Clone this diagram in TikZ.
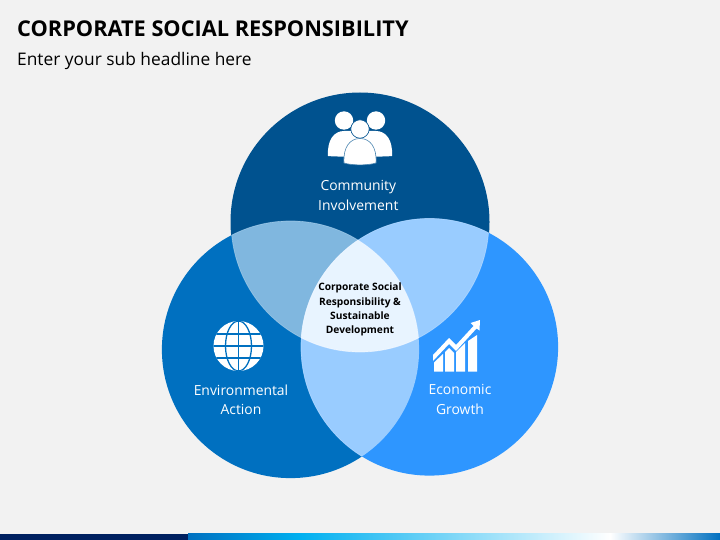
\documentclass[tikz,border=0pt]{standalone}
\usepackage{fontspec}
\setmainfont{Open Sans}
\definecolor{bgc}{HTML}{F2F2F2}
\definecolor{ctop}{HTML}{00528F}
\definecolor{cleft}{HTML}{0070C0}
\definecolor{cright}{HTML}{2E96FF}
\definecolor{ovtl}{HTML}{80B7DF}
\definecolor{ovs}{HTML}{99CCFF}
\definecolor{ovc}{HTML}{E8F4FF}
\definecolor{navy}{HTML}{002060}
\definecolor{sky}{HTML}{00B0F0}
\tikzset{
  lab/.style={align=center,text=white,font=\fontsize{13.9}{19.2}\selectfont,inner sep=0pt},
  core/.style={align=center,text=black,font=\fontsize{10.2}{14.3}\selectfont\bfseries,inner sep=0pt},
  ring/.style={draw=white,draw opacity=0.3,line width=0.7pt},
  circ/.style={circle,inner sep=0pt,outer sep=0pt}
}
\def\ctop{(360,222) circle[x radius=129,y radius=130]}
\def\cleft{(290.5,349.5) circle[radius=128.6]}
\def\cright{(429.5,347) circle[radius=128.6]}
\begin{document}
\begin{tikzpicture}[x=1pt,y=-1pt]
\useasboundingbox (0,0) rectangle (720,540);
\fill[bgc] (0,0) rectangle (720,540);
% bottom strip
\fill[navy] (0,533.5) rectangle (188,540);
\fill[left color=cleft,right color=sky] (188,533.5) rectangle (300,540);
\fill[left color=sky,right color=white] (300,533.5) rectangle (610,540);
\fill[left color=white,right color=cleft] (610,533.5) rectangle (720,540);
% circles
\node[circ,fill=ctop,minimum size=259pt] (topc) at (360,222) {};
\node[circ,fill=cleft,minimum size=257.2pt] (leftc) at (290.5,349.5) {};
\node[circ,fill=cright,minimum size=257.2pt] (rightc) at (429.5,347) {};
% overlaps
\begin{scope}
 \clip \ctop;
 \fill[ovtl] \cleft;
 \fill[ovs] \cright;
\end{scope}
\begin{scope}
 \clip \cleft;
 \fill[ovs] \cright;
\end{scope}
\begin{scope}
 \clip \ctop;
 \clip \cleft;
 \fill[ovc] \cright;
\end{scope}
\begin{scope}
 \clip \ctop;
 \draw[ring] \cleft;
 \draw[ring] \cright;
\end{scope}
\begin{scope}
 \clip \cleft;
 \draw[ring] \ctop;
 \draw[ring] \cright;
\end{scope}
\begin{scope}
 \clip \cright;
 \draw[ring] \ctop;
\end{scope}
% titles
\node[anchor=base west,inner sep=0pt,font=\fontsize{21.75}{24}\selectfont\bfseries,text=black] (title) at (17,37) {CORPORATE SOCIAL RESPONSIBILITY};
\node[anchor=base west,inner sep=0pt,font=\fontsize{17.35}{20}\selectfont,text=black] (sub) at (17,65.5) {Enter your sub headline here};
% labels
\node[lab] (lcomm) at (358.3,195.5) {Community\\Involvement};
\node[lab] (lenv) at (241,399.5) {Environmental\\Action};
\node[lab] (leco) at (460,399.5) {Economic\\Growth};
\node[core] (lcore) at (360,309.5) {Corporate Social\\Responsibility \&\\Sustainable\\Development};
% people icon
\fill[white] (344,120.5) circle[radius=9.2] (376,120.5) circle[radius=9.2];
\fill[white] (328,156) .. controls (327,140) and (334,131) .. (344,131) -- (376,131) .. controls (386,131) and (393,140) .. (392,156) -- (392,156) .. controls (385,157) and (335,157) .. (328,156) -- cycle;
\fill[white,draw=ctop!70!white,line width=0.6pt] (344,163) .. controls (343,147) and (350,138.5) .. (360,138.5) .. controls (370,138.5) and (377,147) .. (376,163) .. controls (368,165.5) and (352,165.5) .. (344,163) -- cycle;
\fill[white,draw=ctop,line width=0.6pt] (360,129) circle[radius=9.2];
% globe icon
\fill[white] (238.5,346) circle[radius=25];
\begin{scope}
 \clip (238.5,346) circle[radius=25];
 \draw[cleft,line width=1.3pt] (238.5,320) -- (238.5,372);
 \draw[cleft,line width=1.3pt] (238.5,346) ellipse[x radius=13,y radius=25];
 \draw[cleft,line width=1.3pt] (212,334) -- (265,334) (212,346) -- (265,346) (212,358) -- (265,358);
\end{scope}
% chart icon
\fill[white] (433,355) -- (449,338) -- (456,345) -- (473.5,326) -- (470.5,323) -- (480,320) -- (479.5,330.5) -- (476.5,328.5) -- (456,351) -- (449,344) -- (433,361) -- cycle;
\fill[white] (434,371.5) -- (434,362.5) -- (443,354) -- (443,371.5) -- cycle;
\fill[white] (445,371.5) -- (445,352) -- (449,348) -- (454,353) -- (454,371.5) -- cycle;
\fill[white] (456,371.5) -- (456,352) -- (465,343) -- (465,371.5) -- cycle;
\fill[white] (468,371.5) -- (468,341) -- (477,335) -- (477,371.5) -- cycle;
\end{tikzpicture}
\end{document}
